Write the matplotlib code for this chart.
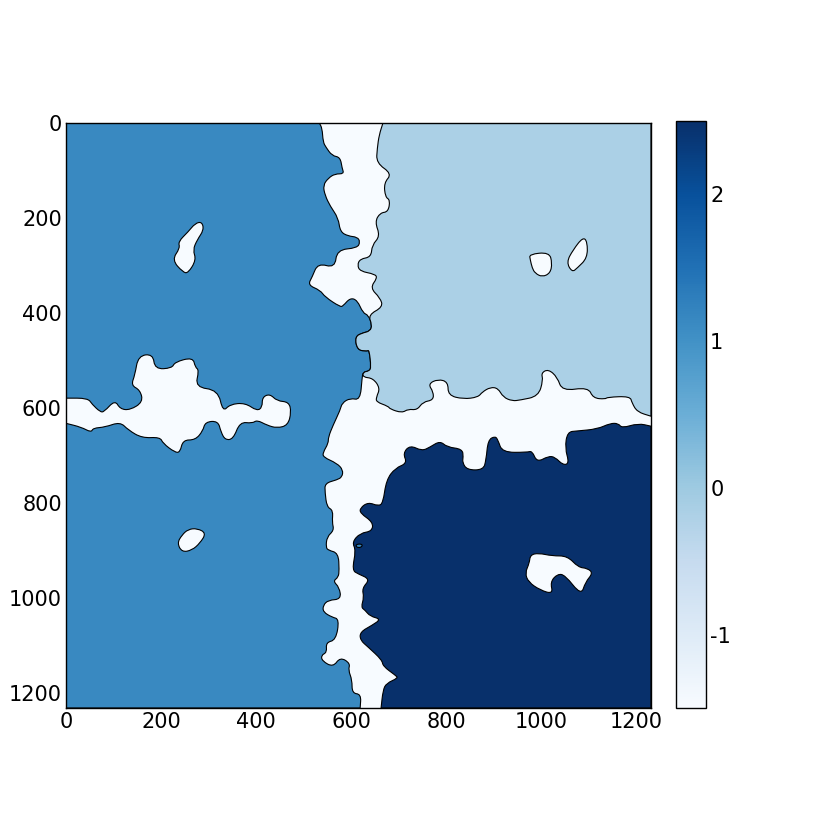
import numpy as np
import matplotlib
matplotlib.use("Agg")
import matplotlib.pyplot as plt
from matplotlib.colors import Normalize
from matplotlib.cm import ScalarMappable
from matplotlib.path import Path
from matplotlib.patches import PathPatch

# Region boundaries, in image (data) units
EXTENT = 1231
left_region = [(533,0),(539,11),(541,40),(547,51),(560,69),(577,72),(581,95),(585,107),(566,107),(552,116),(541,131),(545,152),(556,175),(573,200),(577,229),(594,238),(613,240),(619,250),(613,263),(570,267),(566,305),(530,295),(518,324),(509,341),(535,352),(545,366),(577,387),(583,385),(598,368),(613,373),(625,400),(636,404),(644,425),(640,438),(623,442),(608,450),(613,478),(634,480),(638,478),(642,514),(638,522),(625,524),(623,537),(619,583),(598,579),(581,589),(577,604),(562,636),(552,661),(552,674),(541,693),(541,703),(570,716),(583,730),(581,745),(570,751),(545,758),(545,777),(549,808),(562,815),(560,840),(564,857),(549,871),(547,893),(552,899),(573,905),(575,941),(573,956),(562,964),(575,977),(579,1002),(552,1004),(541,1015),(541,1029),(560,1040),(575,1044),(568,1088),(547,1093),(549,1114),(537,1120),(539,1132),(562,1145),(577,1124),(598,1137),(594,1151),(602,1172),(602,1200),(621,1202),(619,1231),(0,1231),(0,0)]
upper_right_region = [(667,0),(659,25),(655,53),(653,84),(686,107),(669,126),(672,156),(682,162),(678,187),(661,189),(650,208),(661,238),(644,257),(642,282),(619,286),(613,299),(619,312),(650,318),(655,326),(640,347),(661,368),(667,387),(636,404),(644,425),(640,438),(623,442),(608,450),(613,478),(634,480),(638,478),(642,514),(638,522),(625,524),(625,535),(646,537),(661,558),(653,577),(653,587),(678,596),(682,602),(707,610),(720,602),(739,604),(751,587),(773,583),(773,566),(762,549),(783,539),(804,545),(804,573),(836,581),(867,577),(876,566),(893,556),(909,558),(920,577),(939,585),(956,583),(994,575),(1004,541),(1000,526),(1015,518),(1034,535),(1044,564),(1099,556),(1109,579),(1135,581),(1139,577),(1187,575),(1191,589),(1202,608),(1231,617),(1231,0)]
lower_right_region = [(663,1231),(667,1194),(674,1179),(699,1168),(693,1162),(667,1143),(665,1130),(636,1103),(619,1088),(619,1071),(644,1057),(663,1044),(640,1038),(629,1025),(621,1019),(627,998),(623,979),(640,960),(615,949),(602,941),(610,899),(602,882),(619,863),(644,859),(646,840),(619,821),(619,810),(636,798),(657,806),(667,800),(674,751),(693,726),(718,716),(709,695),(724,678),(749,690),(766,682),(787,669),(802,682),(834,686),(836,703),(834,714),(844,730),(878,730),(884,709),(888,667),(903,659),(909,667),(918,693),(970,693),(981,690),(991,714),(1015,701),(1029,703),(1046,720),(1059,716),(1050,684),(1055,650),(1076,648),(1118,644),(1145,632),(1162,632),(1170,642),(1204,632),(1231,638),(1231,1231)]
band = [(0,579),(46,579),(55,592),(72,608),(80,608),(103,583),(114,602),(135,604),(162,587),(156,562),(137,552),(145,530),(152,490),(183,486),(187,518),(223,516),(229,503),(267,493),(272,514),(280,520),(272,556),(320,562),(330,608),(345,592),(377,589),(402,606),(413,598),(413,577),(429,570),(444,585),(469,587),(474,608),(467,636),(444,642),(423,636),(402,625),(392,632),(366,629),(352,665),(335,667),(326,650),(320,627),(293,629),(288,648),(272,667),(246,667),(240,693),(229,693),(204,674),(198,661),(160,663),(131,646),(114,629),(82,640),(57,642),(53,651),(32,640),(0,632)]
island_a = [(272,211),(286,208),(290,225),(276,246),(267,267),(274,288),(257,316),(246,314),(223,288),(240,263),(236,250),(257,229)]
island_b = [(975,276),(1017,272),(1023,295),(1019,316),(1002,324),(987,316),(981,305),(977,288)]
island_c = [(1088,240),(1097,250),(1097,284),(1076,305),(1065,314),(1053,293),(1067,267)]
island_d = [(977,909),(994,905),(1023,911),(1055,911),(1078,935),(1097,937),(1109,947),(1093,966),(1084,994),(1050,951),(1034,949),(1019,966),(1025,991),(998,983),(973,966),(966,947),(975,926)]
island_e = [(257,855),(276,853),(295,863),(282,884),(265,899),(244,903),(234,884),(244,867)]
speck = [(608,888),(620,885),(625,890),(615,895)]

# Value carried by each region
left_value = 1.14
upper_right_value = -0.16
lower_right_value = 2.5
empty_value = -1.5
vmin, vmax = -1.5, 2.5
axis_ticks = [0, 200, 400, 600, 800, 1000, 1200]
bar_ticks = [-1, 0, 1, 2]

plt.rcParams["font.family"] = "DejaVu Sans"
plt.rcParams["axes.unicode_minus"] = False
W = 830
fig = plt.figure(figsize=(8.3, 8.3), dpi=100)
ax = fig.add_axes([66/W, (W-708)/W, 585/W, 585/W])
cax = fig.add_axes([676/W, (W-708)/W, 30/W, 587/W])

cmap = plt.get_cmap("Blues")
norm = Normalize(vmin, vmax)
ax.set_facecolor(cmap(norm(empty_value)))


def on_frame(p):
    return p[0] in (0, EXTENT) or p[1] in (0, EXTENT)


def rounded_path(points):
    """Closed outline: quadratic curves round inner corners, frame corners stay sharp."""
    pts = [tuple(map(float, p)) for p in points]
    n = len(pts)
    mid = lambda a, b: ((a[0] + b[0]) / 2, (a[1] + b[1]) / 2)
    start = mid(pts[-1], pts[0])
    verts, codes = [start], [Path.MOVETO]
    for i, p in enumerate(pts):
        q = pts[(i + 1) % n]
        if on_frame(p):
            verts += [p, mid(p, q)]
            codes += [Path.LINETO, Path.LINETO]
        else:
            verts += [p, mid(p, q)]
            codes += [Path.CURVE3, Path.CURVE3]
    verts.append(start)
    codes.append(Path.CLOSEPOLY)
    return Path(verts, codes)


def draw(points, value):
    ax.add_patch(PathPatch(rounded_path(points), facecolor=cmap(norm(value)),
                           edgecolor="black", linewidth=0.8))


draw(left_region, left_value)
draw(upper_right_region, upper_right_value)
draw(lower_right_region, lower_right_value)
for part in (band, island_a, island_b, island_c, island_d, island_e):
    draw(part, empty_value)
draw(speck, left_value)

ax.set_xlim(0, EXTENT)
ax.set_ylim(EXTENT, 0)
ax.set_xticks(axis_ticks)
ax.set_yticks(axis_ticks)
ax.tick_params(length=0, labelsize=15, pad=3)
for s in ax.spines.values():
    s.set_linewidth(1.0)

cb = fig.colorbar(ScalarMappable(norm=norm, cmap=cmap), cax=cax, ticks=bar_ticks)
cb.ax.tick_params(length=0, labelsize=15, pad=3)
cb.ax.set_yticklabels([str(t) for t in bar_ticks])
cb.outline.set_linewidth(1.0)

fig.savefig("out.png", dpi=100)
